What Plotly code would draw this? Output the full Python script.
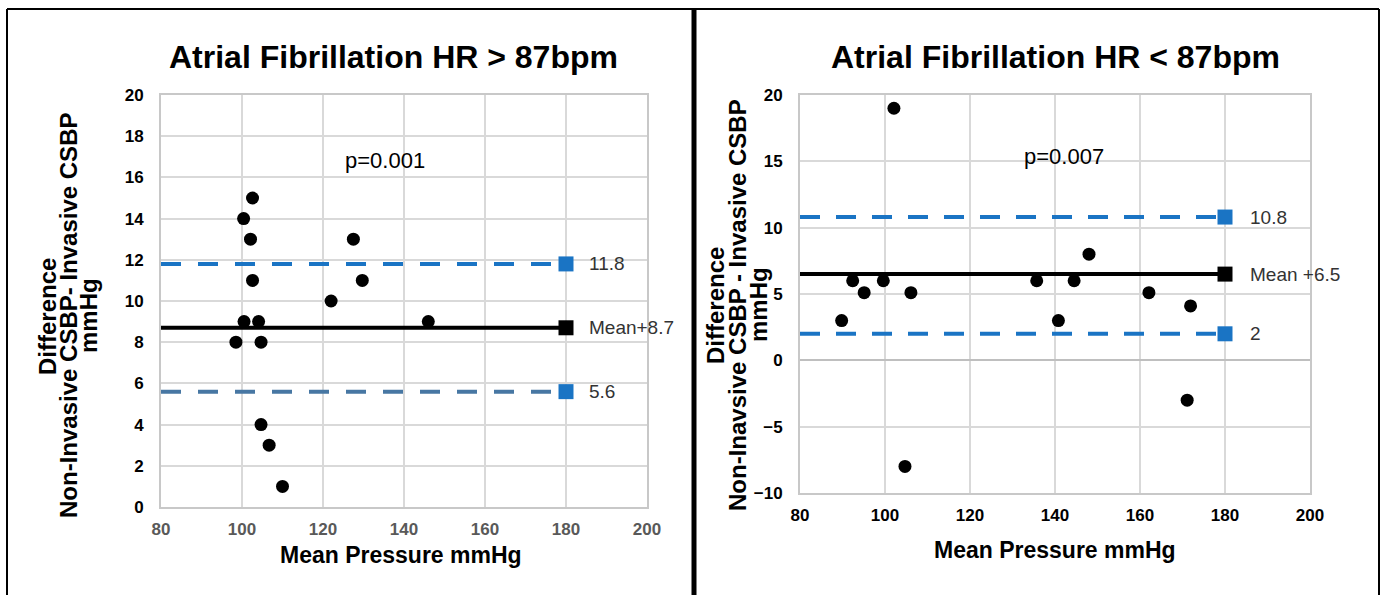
import plotly.graph_objects as go

W, H = 1384, 595

# ---------------- data ----------------
left_title = "Atrial Fibrillation HR > 87bpm"
right_title = "Atrial Fibrillation HR < 87bpm"

left_x = [98.5, 100.5, 104.1, 104.7, 104.7, 106.7, 110.0, 146.0, 122.0, 102.6, 100.4, 102.1, 102.6, 127.5, 129.7]
left_y = [8, 9, 9, 8, 4, 3, 1, 9, 10, 15, 14, 13, 11, 13, 11]

right_x = [89.8, 92.4, 95.1, 99.6, 102.1, 104.7, 106.1, 135.7, 140.8, 144.5, 148.0, 162.1, 171.1, 171.9]
right_y = [3, 6, 5.1, 6, 19, -8, 5.1, 6, 3, 6, 8, 5.1, -3, 4.1]

left_mean, left_upper, left_lower = 8.7, 11.8, 5.6
right_mean, right_upper, right_lower = 6.5, 10.8, 2.0
left_labels = ["11.8", "Mean+8.7", "5.6"]
right_labels = ["10.8", "Mean +6.5", "2"]
left_p = "p=0.001"
right_p = "p=0.007"
line_x = [80, 180]

x_title = "Mean Pressure mmHg"
left_ytitle = ["Difference", "Non-Invasive CSBP- Invasive CSBP", "mmHg"]
right_ytitle = ["Difference", "Non-Inavsive CSBP - Invasive CSBP", "mmHg"]

# ---------------- style ----------------
FONT = "Liberation Sans, Arial, Helvetica, sans-serif"
BLUE = "#1a74c4"
STEEL = "#4777a3"
GRID = "#d9d9d9"


def px(x):
    return x / W


def py(y):
    return 1 - y / H


fig = go.Figure()


def add_panel(xs, ys, mean, upper, lower, labels, xa, ya, lower_color, dash):
    fig.add_trace(go.Scatter(x=xs, y=ys, mode="markers", xaxis=xa, yaxis=ya,
                             marker=dict(color="black", size=13, line=dict(width=0)),
                             showlegend=False, hoverinfo="x+y"))
    for val, col, d in [(upper, BLUE, dash), (mean, "black", "solid"), (lower, lower_color, dash)]:
        fig.add_trace(go.Scatter(x=line_x, y=[val, val], mode="lines", xaxis=xa, yaxis=ya,
                                 line=dict(color=col, width=4, dash=d),
                                 showlegend=False, hoverinfo="skip"))
    for val, col in [(upper, BLUE), (mean, "black"), (lower, BLUE)]:
        fig.add_trace(go.Scatter(x=[line_x[1]], y=[val], mode="markers", xaxis=xa, yaxis=ya,
                                 marker=dict(color=col, size=15, symbol="square", line=dict(width=0)),
                                 showlegend=False, hoverinfo="skip"))
    for val, txt in zip([upper, mean, lower], labels):
        fig.add_annotation(x=185.3, y=val, xref=xa, yref=ya, text=txt, showarrow=False,
                           xanchor="left", yanchor="middle",
                           font=dict(family=FONT, size=19, color="#333333"))


add_panel(left_x, left_y, left_mean, left_upper, left_lower, left_labels,
          "x", "y", STEEL, "20px,17px")
add_panel(right_x, right_y, right_mean, right_upper, right_lower, right_labels,
          "x2", "y2", BLUE, "20px,16px")

fig.add_annotation(x=135.2, y=16.8, xref="x", yref="y", text=left_p, showarrow=False,
                   xanchor="center", yanchor="middle",
                   font=dict(family=FONT, size=22, color="black"))
fig.add_annotation(x=142.0, y=15.4, xref="x2", yref="y2", text=right_p, showarrow=False,
                   xanchor="center", yanchor="middle",
                   font=dict(family=FONT, size=22, color="black"))

tickfont_k = dict(family=FONT, size=17, color="black", weight="bold")
tickfont_g = dict(family=FONT, size=17, color="#595959", weight="bold")

common = dict(showgrid=True, gridcolor=GRID, gridwidth=2, showline=True, linecolor="#c8c8c8",
              linewidth=2, mirror=True, ticks="", fixedrange=True, automargin=False)

fig.update_layout(
    width=W, height=H, autosize=False,
    margin=dict(l=0, r=0, t=0, b=0, pad=0, autoexpand=False),
    paper_bgcolor="white", plot_bgcolor="white",
    xaxis=dict(domain=[px(161), px(647)], range=[80, 200], dtick=20, tick0=80,
               tickfont=tickfont_g, ticklabelstandoff=6, zeroline=False, anchor="y", **common),
    yaxis=dict(domain=[py(507), py(95)], range=[0, 20], dtick=2, tick0=0,
               tickfont=tickfont_k, ticklabelstandoff=12, zeroline=False, anchor="x", **common),
    xaxis2=dict(domain=[px(800), px(1310)], range=[80, 200], dtick=20, tick0=80,
                tickfont=tickfont_k, ticklabelstandoff=6, zeroline=False, anchor="y2", **common),
    yaxis2=dict(domain=[py(493), py(95)], range=[-10, 20], dtick=5, tick0=0,
                tickfont=tickfont_k, ticklabelstandoff=12, zeroline=True,
                zerolinecolor="#bfbfbf", zerolinewidth=2, anchor="x2", **common),
)


def paper_text(cx, cy, txt, size, bold=True, angle=0):
    fig.add_annotation(x=px(cx), y=py(cy), xref="paper", yref="paper", text=txt,
                       textangle=angle, showarrow=False, xanchor="center", yanchor="middle",
                       font=dict(family=FONT, size=size, color="black",
                                 weight="bold" if bold else "normal"))


# titles
paper_text(393, 57, left_title, 32)
paper_text(1055, 57, right_title, 32)

# x titles
paper_text(401, 555, x_title, 23)
paper_text(1055, 550, x_title, 23)

# y titles (one annotation per line)
for cx, txt in zip([47, 68, 88], left_ytitle):
    paper_text(cx, 316, txt, 24, angle=-90)
for cx, txt in zip([715, 737, 758], right_ytitle):
    paper_text(cx, 305, txt, 24, angle=-90)

# panel frames
frame = [
    dict(x0=7, x1=7, y0=9, y1=H + 5, w=2),
    dict(x0=7, x1=1379, y0=9, y1=9, w=2),
    dict(x0=694, x1=694, y0=8, y1=H + 5, w=5),
    dict(x0=1379, x1=1379, y0=9, y1=H + 5, w=2),
]
for f in frame:
    fig.add_shape(type="line", xref="paper", yref="paper", x0=px(f["x0"]), x1=px(f["x1"]),
                  y0=py(f["y0"]), y1=py(f["y1"]), line=dict(color="black", width=f["w"]))

fig.write_html(
    "out.html",
    config={"displayModeBar": False},
    post_script="document.body.style.margin='0';document.body.style.overflow='hidden';",
)
